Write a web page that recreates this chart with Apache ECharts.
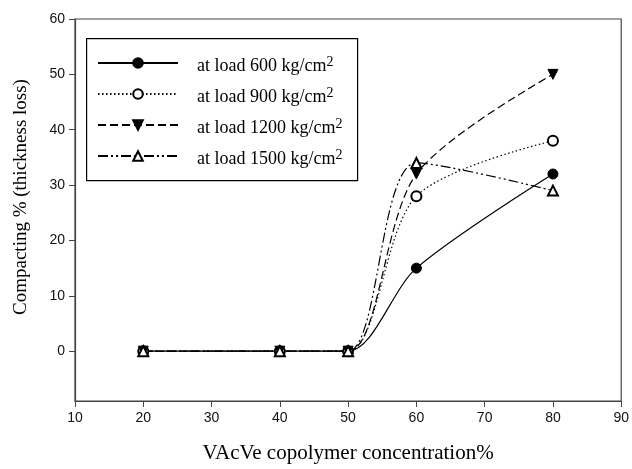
<!DOCTYPE html>
<html><head><meta charset="utf-8">
<script src="https://cdn.jsdelivr.net/npm/echarts@6/dist/echarts.min.js"></script>
<style>html,body{margin:0;padding:0;background:#fff}#c{width:632px;height:469px}</style>
</head><body><div id="c"></div>
<script>
const xValues = [20, 40, 50, 60, 80];
const load600 = [0, 0, 0, 15, 32];
const load900 = [0, 0, 0, 28, 38];
const load1200 = [0, 0, 0, 32, 50];
const load1500 = [0, 0, 0, 34, 29];
const seriesNames = ['at load 600 kg/cm', 'at load 900 kg/cm', 'at load 1200 kg/cm', 'at load 1500 kg/cm'];
const yTicks = [0, 10, 20, 30, 40, 50, 60];

const pairs = v => xValues.map((x, i) => [x, v[i]]);
const ax = '#444';
const chart = echarts.init(document.getElementById('c'));
const mk = (name, data, symbol, lineType, rotate) => ({
  name, type: 'line', data: pairs(data), smooth: 0.3,
  symbol, symbolSize: 10, symbolRotate: rotate || 0,
  itemStyle: { color: '#000', borderColor: '#000', borderWidth: 1 },
  lineStyle: { color: '#000', width: 1.2, type: lineType },
  z: 3
});
chart.setOption({
  animation: false,
  grid: { left: 75, right: 9, top: 19, bottom: 65, show: true, borderColor: ax, borderWidth: 1.2 },
  graphic: [{
    type: 'rect', left: 86, top: 38, z: 1,
    shape: { width: 271, height: 142 },
    style: { fill: '#fff', stroke: '#000', lineWidth: 1.2 }
  }],
  legend: {
    orient: 'vertical', left: 97, top: 55,
    padding: 0,
    itemWidth: 80, itemHeight: 12, itemGap: 11,
    data: seriesNames,
    formatter: n => '{a|' + n + '}{s|2}',
    textStyle: {
      padding: [6, 0, 0, 14],
      rich: {
        a: { fontFamily: 'Liberation Serif', fontSize: 18, color: '#000', lineHeight: 22 },
        s: { fontFamily: 'Liberation Serif', fontSize: 14, color: '#000', verticalAlign: 'top', lineHeight: 14 }
      }
    }
  },
  xAxis: {
    type: 'value', min: 10, max: 90, interval: 10,
    name: 'VAcVe copolymer concentration%', nameLocation: 'middle', nameGap: 42,
    nameTextStyle: { fontFamily: 'Liberation Serif', fontSize: 21, color: '#000' },
    axisLine: { onZero: false, lineStyle: { color: ax, width: 1.2 } },
    axisTick: { lineStyle: { color: ax }, length: 6 },
    axisLabel: { fontFamily: 'Liberation Sans', fontSize: 14, color: '#111', margin: 10 },
    splitLine: { show: false }
  },
  yAxis: {
    type: 'value', min: -9, max: 60,
    name: 'Compacting % (thickness loss)', nameLocation: 'middle', nameGap: 44,
    nameTextStyle: { fontFamily: 'Liberation Serif', fontSize: 19, color: '#000', padding: [0, 0, 0, 26] },
    axisLine: { show: true, onZero: false, lineStyle: { color: ax, width: 1.2 } },
    axisTick: { show: true, customValues: yTicks, lineStyle: { color: ax }, length: 6 },
    axisLabel: { customValues: yTicks, fontFamily: 'Liberation Sans', fontSize: 14, color: '#111', margin: 10 },
    splitLine: { show: false }
  },
  series: [
    mk(seriesNames[0], load600, 'circle', 'solid'),
    mk(seriesNames[1], load900, 'emptyCircle', [1.5, 2.5]),
    mk(seriesNames[2], load1200, 'triangle', [8, 4], 180),
    mk(seriesNames[3], load1500, 'emptyTriangle', [10, 3, 2, 3, 2, 3])
  ]
});
</script></body></html>
